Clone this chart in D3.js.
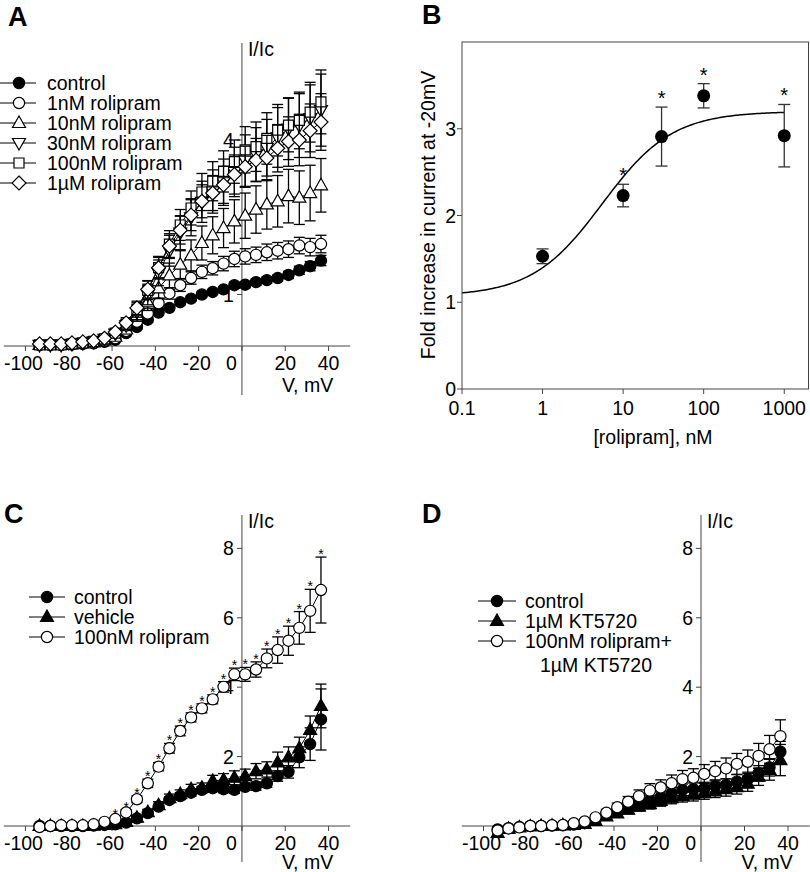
<!DOCTYPE html>
<html><head><meta charset="utf-8">
<script src="https://cdn.jsdelivr.net/npm/d3@7"></script>
<style>
body{margin:0;background:#fff;}
svg{display:block;font-family:"Liberation Sans",Arial,Helvetica,sans-serif;}
</style></head><body>
<svg id="c" width="810" height="872"></svg>
<script>
// ---------- DATA ----------
const V = [-93.5,-88.5,-83.5,-78.5,-73.5,-68.5,-63.5,-58.5,-53.5,-48.5,-43.5,-38.5,-33.5,-28.5,-23.5,-18.5,-13.5,-8.5,-3.5,1.5,6.5,11.5,16.5,21.5,26.5,31.5,36.5];
const xTicksIV = [-100,-80,-60,-40,-20,0,20,40];
const yTicksA = [1,4];
const yTicksCD = [2,4,6,8];

// Panel A
const ctrlA   = [0.02,0.02,0.02,0.03,0.04,0.05,0.08,0.12,0.25,0.37,0.51,0.65,0.74,0.85,0.92,1.00,1.05,1.10,1.18,1.19,1.24,1.28,1.32,1.38,1.47,1.55,1.66];
const ctrlAErr= [0.01,0.01,0.01,0.01,0.01,0.02,0.02,0.03,0.04,0.05,0.05,0.05,0.05,0.05,0.05,0.05,0.05,0.05,0.06,0.06,0.06,0.06,0.06,0.07,0.08,0.09,0.10];
const nM1A    = [0.02,0.02,0.02,0.03,0.05,0.06,0.10,0.15,0.29,0.47,0.63,0.83,1.02,1.18,1.32,1.44,1.51,1.60,1.69,1.74,1.77,1.82,1.85,1.88,1.95,1.92,1.98];
const nM1AErr = [0.01,0.01,0.01,0.01,0.01,0.02,0.03,0.05,0.06,0.08,0.10,0.10,0.11,0.12,0.12,0.13,0.13,0.14,0.15,0.15,0.15,0.16,0.16,0.16,0.16,0.17,0.17];
const nM10A   = [0.02,0.02,0.02,0.03,0.05,0.07,0.11,0.18,0.32,0.60,0.85,1.12,1.37,1.58,1.76,2.00,2.15,2.29,2.42,2.53,2.65,2.75,2.81,2.91,2.88,2.97,3.12];
const nM10AErr= [0.01,0.01,0.01,0.01,0.02,0.02,0.03,0.05,0.08,0.12,0.16,0.20,0.24,0.27,0.30,0.33,0.36,0.38,0.42,0.44,0.46,0.48,0.50,0.52,0.52,0.54,0.52];
const nM30A   = [0.02,0.02,0.02,0.04,0.06,0.09,0.14,0.24,0.40,0.66,1.00,1.42,1.85,2.20,2.50,2.80,3.00,3.18,3.38,3.60,3.72,3.85,4.05,4.22,4.28,4.42,4.58];
const nM30AErr= [0.01,0.01,0.01,0.02,0.02,0.03,0.04,0.06,0.10,0.15,0.20,0.25,0.30,0.33,0.36,0.40,0.42,0.45,0.48,0.50,0.52,0.55,0.58,0.60,0.62,0.65,0.70];
const nM100A  = [0.02,0.02,0.02,0.04,0.06,0.09,0.14,0.25,0.42,0.70,1.08,1.52,1.98,2.35,2.68,2.99,3.20,3.39,3.58,3.81,3.87,4.03,4.19,4.29,4.38,4.54,4.74];
const nM100AErr=[0.01,0.01,0.01,0.02,0.02,0.03,0.04,0.06,0.10,0.14,0.18,0.22,0.26,0.30,0.33,0.36,0.38,0.40,0.42,0.45,0.48,0.50,0.50,0.52,0.55,0.58,0.62];
const uM1A    = [0.04,0.04,0.04,0.06,0.08,0.10,0.15,0.27,0.45,0.74,1.10,1.52,1.94,2.25,2.54,2.81,2.97,3.13,3.33,3.48,3.61,3.65,3.84,3.97,4.00,4.18,4.35];
const uM1AErr = [0.01,0.01,0.01,0.02,0.02,0.03,0.04,0.06,0.10,0.13,0.17,0.20,0.24,0.27,0.30,0.32,0.34,0.36,0.38,0.40,0.42,0.44,0.46,0.48,0.50,0.52,0.55];

// Panel B
const concB = [1,10,30,100,1000];
const foldB = [1.53,2.23,2.91,3.38,2.92];
const foldBErr = [0.085,0.13,0.34,0.14,0.36];
const starB = [false,true,true,true,true];
const fitB = {bottom:1.07, top:3.2, ec50:5.5, hill:1.0};
const xTicksB = [0.1,1,10,100,1000];
const xTickLabelsB = ["0.1","1","10","100","1000"];
const yTicksB = [0,1,2,3];

// Panel C
const ctrlC    = [0.00,0.00,0.00,0.00,0.00,0.01,0.03,0.05,0.10,0.22,0.37,0.56,0.75,0.86,0.96,1.04,1.09,1.06,1.04,1.13,1.15,1.23,1.44,1.56,1.98,2.36,3.07];
const ctrlCErr = [0.01,0.01,0.01,0.01,0.01,0.01,0.02,0.03,0.04,0.05,0.05,0.06,0.08,0.10,0.10,0.10,0.10,0.10,0.10,0.10,0.12,0.12,0.15,0.18,0.30,0.47,0.88];
const vehC     = [0.00,0.00,0.00,0.00,0.00,0.01,0.03,0.05,0.12,0.24,0.40,0.60,0.80,0.92,1.06,1.10,1.30,1.33,1.39,1.44,1.58,1.63,1.83,1.98,2.24,2.77,3.46];
const vehCErr  = [0.01,0.01,0.01,0.01,0.01,0.01,0.02,0.03,0.05,0.06,0.08,0.10,0.12,0.12,0.14,0.14,0.16,0.18,0.20,0.20,0.22,0.22,0.30,0.30,0.32,0.40,0.63];
const rolC     = [-0.03,0.00,0.02,0.02,0.02,0.05,0.12,0.20,0.39,0.77,1.23,1.71,2.24,2.74,3.13,3.39,3.65,4.01,4.37,4.37,4.51,4.83,5.07,5.34,5.71,6.20,6.80];
const rolCErr  = [0.01,0.01,0.01,0.01,0.02,0.02,0.03,0.05,0.08,0.10,0.12,0.12,0.14,0.14,0.13,0.13,0.13,0.15,0.18,0.20,0.22,0.27,0.38,0.42,0.47,0.62,0.95];
const starC    = [0,0,0,0,0,0,0,1,1,1,1,1,1,1,1,1,1,1,1,1,1,1,1,1,1,1,1];

// Panel D
const ctrlD    = [-0.10,-0.06,-0.03,0.00,0.00,0.01,0.02,0.04,0.08,0.18,0.32,0.41,0.56,0.65,0.73,0.83,0.94,1.04,1.06,1.08,1.15,1.18,1.28,1.35,1.52,1.69,2.14];
const ctrlDErr = [0.02,0.02,0.01,0.01,0.01,0.01,0.02,0.03,0.04,0.06,0.08,0.10,0.12,0.13,0.14,0.15,0.16,0.17,0.18,0.18,0.18,0.18,0.20,0.20,0.22,0.25,0.30];
const ktD      = [-0.20,-0.08,-0.04,-0.01,0.00,0.01,0.02,0.03,0.06,0.15,0.28,0.36,0.47,0.56,0.63,0.72,0.80,0.86,0.90,0.95,1.00,1.06,1.12,1.22,1.42,1.62,1.90];
const ktDErr   = [0.02,0.02,0.01,0.01,0.01,0.01,0.02,0.03,0.04,0.06,0.08,0.10,0.12,0.13,0.14,0.15,0.16,0.17,0.18,0.18,0.18,0.20,0.20,0.22,0.25,0.30,0.45];
const rolKtD   = [-0.13,-0.07,-0.04,0.00,0.00,0.02,0.03,0.08,0.13,0.25,0.38,0.54,0.70,0.86,1.02,1.11,1.23,1.35,1.39,1.50,1.58,1.66,1.79,1.85,2.02,2.21,2.59];
const rolKtDErr= [0.01,0.01,0.01,0.01,0.01,0.02,0.02,0.03,0.05,0.08,0.10,0.12,0.15,0.18,0.20,0.22,0.24,0.25,0.26,0.27,0.28,0.30,0.30,0.34,0.36,0.40,0.47];

// ---------- DRAWING ----------
const svg = d3.select("#c");
const FS = 19.5;
const AX = "#444";

function marker(g, type, x, y, filled){
  let el;
  if(type==="circle"){ el = g.append("circle").attr("cx",x).attr("cy",y).attr("r",5.6); }
  else{
    let pts;
    if(type==="triUp") pts=[[0,-7],[6.5,4.5],[-6.5,4.5]];
    else if(type==="triDown") pts=[[0,7],[6.5,-4.5],[-6.5,-4.5]];
    else if(type==="square") pts=[[-5,-5],[5,-5],[5,5],[-5,5]];
    else pts=[[0,-7],[7,0],[0,7],[-7,0]];
    el = g.append("path").attr("d","M"+pts.map(p=>(x+p[0])+","+(y+p[1])).join("L")+"Z");
  }
  el.attr("fill",filled?"#000":"#fff").attr("stroke","#000").attr("stroke-width",1.2);
}

function errBar(g,x,y1,y2,hw){
  g.append("line").attr("x1",x).attr("x2",x).attr("y1",y1).attr("y2",y2);
  g.append("line").attr("x1",x-hw).attr("x2",x+hw).attr("y1",y1).attr("y2",y1);
  g.append("line").attr("x1",x-hw).attr("x2",x+hw).attr("y1",y2).attr("y2",y2);
}

function ivPanel(o){
  const x = d3.scaleLinear().domain([-110,50]).range(o.xr);
  const y = d3.scaleLinear().domain(o.yd).range(o.yr);
  const g = svg.append("g");
  const x0 = x(0), y0 = y(0);
  const ax = g.append("g").attr("stroke",AX).attr("stroke-width",1).attr("fill","none");
  ax.append("line").attr("x1",o.xr[0]).attr("x2",o.xr[1]).attr("y1",y0).attr("y2",y0);
  ax.append("line").attr("x1",x0).attr("x2",x0).attr("y1",o.yTop).attr("y2",o.yBot);
  xTicksIV.forEach(t=>{
    ax.append("line").attr("x1",x(t)).attr("x2",x(t)).attr("y1",y0).attr("y2",y0+5);
    g.append("text").attr("x", t===0? x0-5 : x(t)-(t<0?2:0)).attr("y",o.xLabY)
      .attr("text-anchor", t===0?"end":"middle").attr("font-size",FS).text(t);
  });
  o.yTicks.forEach(t=>{
    ax.append("line").attr("x1",x0-5).attr("x2",x0).attr("y1",y(t)).attr("y2",y(t));
    g.append("text").attr("x",x0-8).attr("y",y(t)+7).attr("text-anchor","end").attr("font-size",FS).text(t);
  });
  g.append("text").attr("x",x0+6).attr("y",o.yTop+13).attr("font-size",FS).text("I/Ic");
  g.append("text").attr("x",x(50)-17).attr("y",o.vmY).attr("text-anchor","end").attr("font-size",FS).text("V, mV");

  const line = d3.line().x((d,i)=>x(V[i])).y(d=>y(d));
  o.series.forEach(s=>{
    const sg = g.append("g");
    const eg = sg.append("g").attr("stroke","#000").attr("stroke-width",1.3);
    s.v.forEach((v,i)=>{ if(s.e[i]>0.04) errBar(eg,x(V[i]),y(v+s.e[i]),y(v-s.e[i]),5.5); });
    sg.append("path").attr("d",line(s.v)).attr("fill","none").attr("stroke","#000").attr("stroke-width",1);
    s.v.forEach((v,i)=>marker(sg,s.m,x(V[i]),y(v),s.f));
    if(s.star){
      s.v.forEach((v,i)=>{ if(s.star[i]) sg.append("text").attr("x",x(V[i])).attr("y",y(v+s.e[i])+2)
        .attr("text-anchor","middle").attr("font-size",14).text("*"); });
    }
  });
  // legend
  const lg = g.append("g");
  o.legend.forEach((l,i)=>{
    const cy = o.leg.y + i*o.leg.dy;
    lg.append("line").attr("x1",o.leg.x1).attr("x2",o.leg.x2).attr("y1",cy).attr("y2",cy).attr("stroke","#000").attr("stroke-width",1);
    marker(lg,l.m,o.leg.mx,cy,l.f);
    lg.append("text").attr("x",o.leg.tx).attr("y",cy+7).attr("font-size",FS).text(l.t);
    if(l.t2) lg.append("text").attr("x",o.leg.tx+15).attr("y",cy+7+24).attr("font-size",FS).text(l.t2);
  });
}

// Panel A
ivPanel({
  xr:[3.8,350.2], yd:[0,4], yr:[346,140], yTop:43, yBot:395, yTicks:yTicksA, xLabY:370, vmY:392,
  series:[
    {v:ctrlA,e:ctrlAErr,m:"circle",f:true},
    {v:nM1A,e:nM1AErr,m:"circle",f:false},
    {v:nM10A,e:nM10AErr,m:"triUp",f:false},
    {v:nM30A,e:nM30AErr,m:"triDown",f:false},
    {v:nM100A,e:nM100AErr,m:"square",f:false},
    {v:uM1A,e:uM1AErr,m:"diamond",f:false}
  ],
  legend:[
    {m:"circle",f:true,t:"control"},
    {m:"circle",f:false,t:"1nM rolipram"},
    {m:"triUp",f:false,t:"10nM rolipram"},
    {m:"triDown",f:false,t:"30nM rolipram"},
    {m:"square",f:false,t:"100nM rolipram"},
    {m:"diamond",f:false,t:"1\u00b5M rolipram"}
  ],
  leg:{y:83,dy:20,x1:0,x2:36,mx:19,tx:47}
});

// Panel C
ivPanel({
  xr:[3.8,350.2], yd:[0,8], yr:[826,548.4], yTop:515, yBot:862, yTicks:yTicksCD, xLabY:850, vmY:869,
  series:[
    {v:ctrlC,e:ctrlCErr,m:"circle",f:true},
    {v:vehC,e:vehCErr,m:"triUp",f:true},
    {v:rolC,e:rolCErr,m:"circle",f:false,star:starC}
  ],
  legend:[
    {m:"circle",f:true,t:"control"},
    {m:"triUp",f:true,t:"vehicle"},
    {m:"circle",f:false,t:"100nM rolipram"}
  ],
  leg:{y:597,dy:20,x1:29,x2:65,mx:47,tx:74}
});

// Panel D
ivPanel({
  xr:[461.75,809.75], yd:[0,8], yr:[826,548.4], yTop:515, yBot:862, yTicks:yTicksCD, xLabY:850, vmY:869,
  series:[
    {v:ctrlD,e:ctrlDErr,m:"circle",f:true},
    {v:ktD,e:ktDErr,m:"triUp",f:true},
    {v:rolKtD,e:rolKtDErr,m:"circle",f:false}
  ],
  legend:[
    {m:"circle",f:true,t:"control"},
    {m:"triUp",f:true,t:"1\u00b5M KT5720"},
    {m:"circle",f:false,t:"100nM rolipram+",t2:"1\u00b5M KT5720"}
  ],
  leg:{y:601,dy:20,x1:478,x2:516,mx:497,tx:525}
});

// Panel B
(function(){
  const x = d3.scaleLog().domain([0.1,2000]).range([462,808.5]);
  const y = d3.scaleLinear().domain([0,4]).range([389,42]);
  const g = svg.append("g");
  g.append("rect").attr("x",462).attr("y",42).attr("width",346.5).attr("height",347)
    .attr("fill","none").attr("stroke",AX).attr("stroke-width",1);
  yTicksB.forEach(t=>{
    g.append("line").attr("x1",457).attr("x2",462).attr("y1",y(t)).attr("y2",y(t)).attr("stroke",AX);
    g.append("text").attr("x",456).attr("y",y(t)+7).attr("text-anchor","end").attr("font-size",FS).text(t);
  });
  xTicksB.forEach((t,i)=>{
    g.append("line").attr("x1",x(t)).attr("x2",x(t)).attr("y1",389).attr("y2",394).attr("stroke",AX);
    g.append("text").attr("x",x(t)).attr("y",415).attr("text-anchor","middle").attr("font-size",FS).text(xTickLabelsB[i]);
  });
  g.append("text").attr("x",653).attr("y",444).attr("text-anchor","middle").attr("font-size",FS).text("[rolipram], nM");
  g.append("text").attr("transform","translate(435,215) rotate(-90)").attr("text-anchor","middle")
    .attr("font-size",FS).text("Fold increase in current at -20mV");
  // fit curve
  const cs = d3.range(-1,3.001,0.02).map(e=>Math.pow(10,e));
  const hill = c => fitB.bottom + (fitB.top-fitB.bottom)/(1+Math.pow(fitB.ec50/c,fitB.hill));
  g.append("path").attr("d",d3.line().x(c=>x(c)).y(c=>y(hill(c)))(cs))
    .attr("fill","none").attr("stroke","#000").attr("stroke-width",1.5);
  const eg = g.append("g").attr("stroke","#333").attr("stroke-width",1.3);
  concB.forEach((c,i)=>{
    errBar(eg,x(c),y(foldB[i]+foldBErr[i]),y(foldB[i]-foldBErr[i]),6);
  });
  concB.forEach((c,i)=>{
    g.append("circle").attr("cx",x(c)).attr("cy",y(foldB[i])).attr("r",6.5).attr("fill","#000");
    if(starB[i]) g.append("text").attr("x",x(c)).attr("y",y(foldB[i]+foldBErr[i])-2)
      .attr("text-anchor","middle").attr("font-size",20).text("*");
  });
})();

// panel letters
[["A",8,26],["B",422,24],["C",4,523],["D",422,523]].forEach(p=>{
  svg.append("text").attr("x",p[1]).attr("y",p[2]).attr("font-size",27).attr("font-weight","bold").text(p[0]);
});
</script>
</body></html>
